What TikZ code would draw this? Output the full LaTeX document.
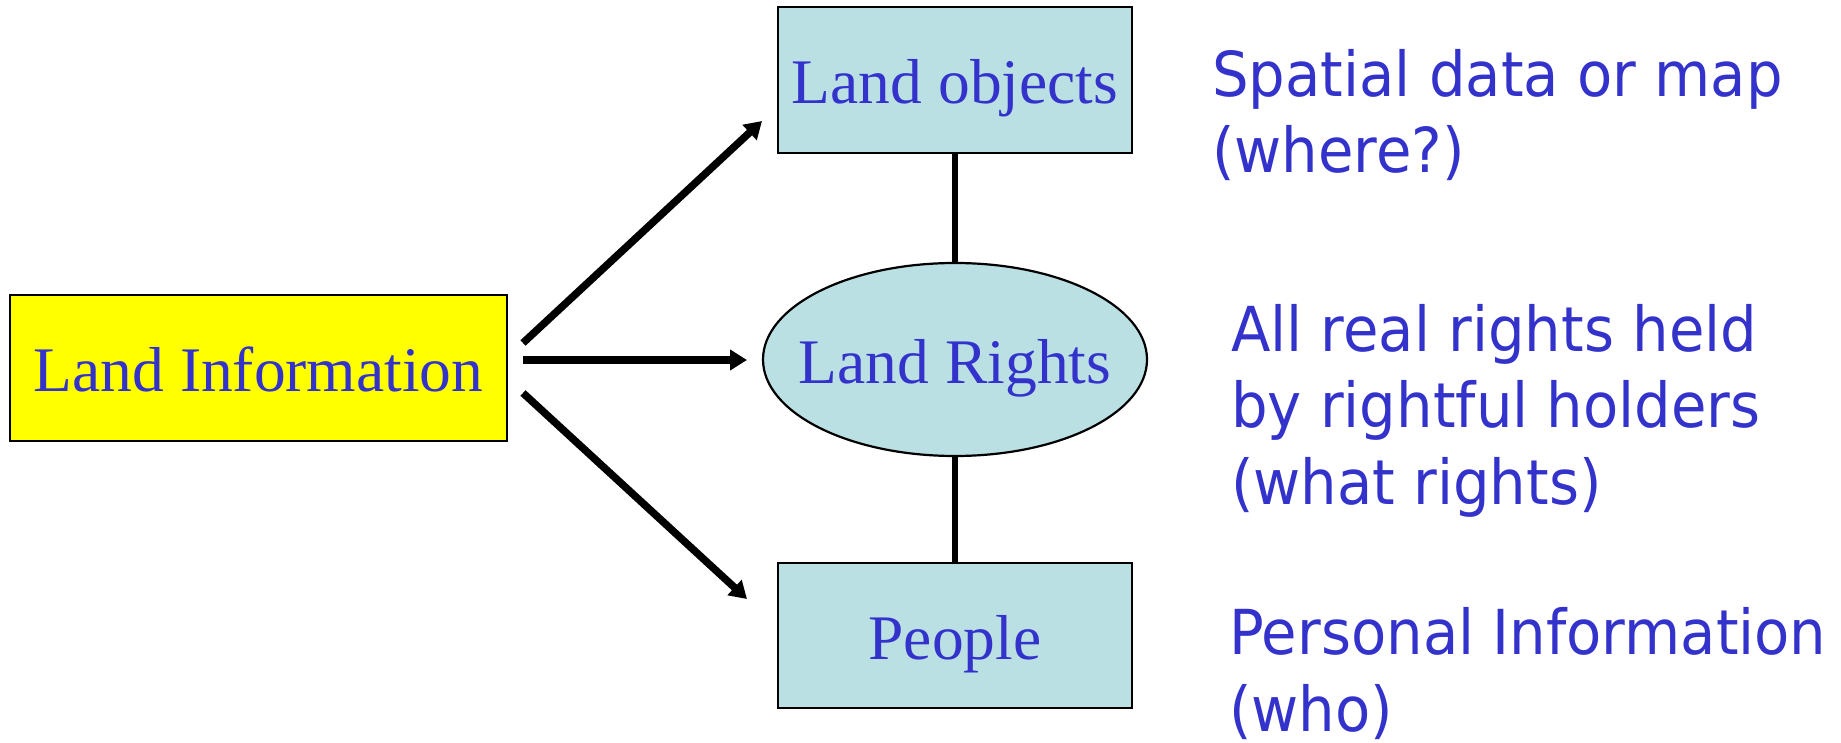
\documentclass[tikz,border=0pt]{standalone}
\usepackage{fontspec}
\setmainfont{Liberation Serif}
\newfontfamily\notefont[FakeStretch=0.93]{DejaVu Sans}
\usetikzlibrary{arrows.meta,shapes.geometric}
\definecolor{txtblue}{RGB}{51,51,204}
\definecolor{boxblue}{RGB}{187,224,227}
\definecolor{boxyellow}{RGB}{255,255,0}
\begin{document}
\begin{tikzpicture}[x=1pt,y=-1pt,
  basebox/.style={draw=black, line width=2.8pt, inner sep=0pt, text=txtblue,
    font=\fontsize{63.5}{70}\selectfont, text height=62pt, text depth=15pt},
  bluebox/.style={basebox, rectangle, fill=boxblue},
  vline/.style={line width=6.5pt},
  arr/.style={line width=7.5pt, -{Triangle[length=17pt,width=20pt]}},
  note/.style={text=txtblue, font=\notefont\fontsize{62}{76.5}\selectfont,
    align=left, inner sep=0pt, anchor=base west}]
\useasboundingbox (0,0) rectangle (1841,743);

\node[basebox, rectangle, fill=boxyellow, minimum width=497pt, minimum height=146pt] (li) at (258.5,368) {Land Information};
\node[bluebox, minimum width=354pt, minimum height=146pt] (lo) at (955,80) {Land objects};
\node[basebox, ellipse, fill=boxblue, line width=2.2pt, inner xsep=-25pt, minimum width=384pt, minimum height=193pt] (lr) at (955,359.5) {Land Rights};
\node[bluebox, minimum width=354pt, minimum height=145pt] (pp) at (955,635.5) {People};

\draw[vline] (lo.south) -- (lr.north);
\draw[vline] (lr.south) -- (pp.north);

\coordinate (s1) at (523,343);
\coordinate (s2) at (523,360);
\coordinate (s3) at (523,393);
\coordinate (e1) at (762,121);
\coordinate (e2) at (747,360);
\coordinate (e3) at (747,599);
\draw[arr] (s1) -- (e1);
\draw[arr] (s2) -- (e2);
\draw[arr] (s3) -- (e3);

\node[note] (n1) at (1212,173) {Spatial data or map\\(where?)};
\node[note] (n2) at (1231,504) {All real rights held\\by rightful holders\\(what rights)};
\node[note] (n3) at (1229,731) {Personal Information\\(who)};
\end{tikzpicture}
\end{document}
